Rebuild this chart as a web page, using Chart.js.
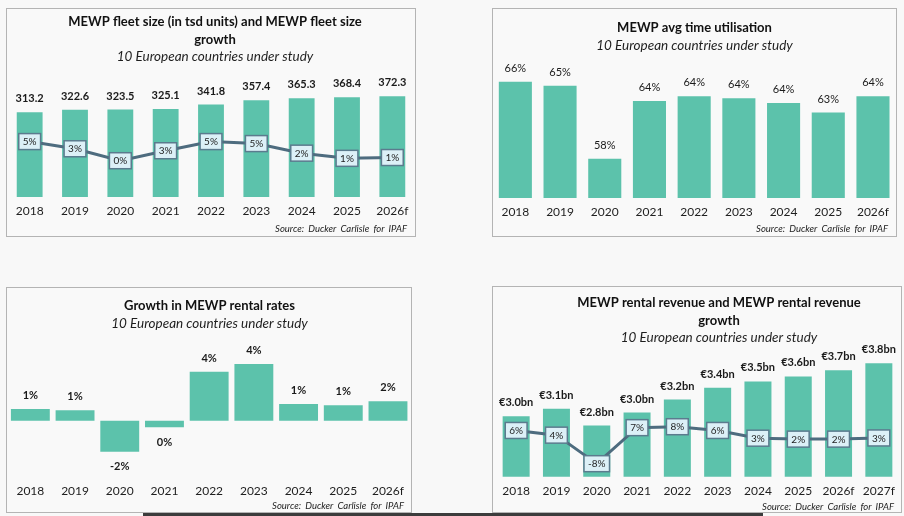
<!DOCTYPE html>
<html>
<head>
<meta charset="utf-8">
<script src="https://cdn.jsdelivr.net/npm/chart.js@4.4.1/dist/chart.umd.min.js"></script>
<style>
  body { margin: 0; background: #f8f8f8; width: 904px; height: 516px; position: relative; overflow: hidden; font-family: Lato, sans-serif; }
  .panel { position: absolute; border: 1px solid #b4b4b4; background: #f9f9f9; overflow: hidden; }
  .panel canvas { position: absolute; left: 0; top: 0; }
  .src { position: absolute; font: italic 9.5px Lato, sans-serif; color: #222; word-spacing: 2px; white-space: nowrap; }
  .edge { position: absolute; left: 143px; top: 513px; width: 620px; height: 3px; background: #3c3c3c; }
</style>
</head>
<body>
<div class="panel" style="left:6px;top:8px;width:408px;height:227px;">
  <canvas id="fleet" width="416" height="227"></canvas>
  <div class="src" style="right:8px;top:214px;">Source: Ducker Carlisle for IPAF</div>
</div>
<div class="panel" style="left:492px;top:8px;width:403px;height:227px;">
  <canvas id="util" width="403" height="227"></canvas>
  <div class="src" style="right:8px;top:214px;">Source: Ducker Carlisle for IPAF</div>
</div>
<div class="panel" style="left:6px;top:287px;width:404px;height:224px;">
  <canvas id="rates" width="404" height="224"></canvas>
  <div class="src" style="right:7px;top:212px;">Source: Ducker Carlisle for IPAF</div>
</div>
<div class="panel" style="left:492px;top:286px;width:408px;height:225px;">
  <canvas id="revenue" width="449" height="225"></canvas>
  <div class="src" style="right:7px;top:214px;">Source: Ducker Carlisle for IPAF</div>
</div>
<div class="edge"></div>
<script>
// categories
const years9 = ['2018', '2019', '2020', '2021', '2022', '2023', '2024', '2025', '2026f'];
const years10 = ['2018', '2019', '2020', '2021', '2022', '2023', '2024', '2025', '2026f', '2027f'];

// fleet size (tsd units) and growth (%)
const fleetSize = [313.2, 322.6, 323.5, 325.1, 341.8, 357.4, 365.3, 368.4, 372.3];
const fleetGrowth = [5.1, 3.3, 0.3, 2.8, 5.1, 4.6, 2.2, 0.9, 1.1];

// avg time utilisation (%)
const utilisation = [65.8, 65.4, 57.8, 63.8, 64.3, 64.1, 63.6, 62.6, 64.3];

// growth in rental rates (%)
const rateGrowth = [0.9, 0.8, -2.4, -0.5, 3.8, 4.4, 1.3, 1.2, 1.5];

// rental revenue (EUR bn) and growth (%)
const revenue = [2.97, 3.09, 2.82, 3.03, 3.24, 3.43, 3.53, 3.61, 3.71, 3.82];
const revenueGrowth = [6.0, 4.0, -8.2, 7.2, 7.6, 6.0, 2.7, 2.3, 2.3, 2.8];

const subtitleText = '10 European countries under study';
const barColor = '#5cc2ab';
const lineColor = '#4e6c7f';

Chart.defaults.font.family = 'Lato, sans-serif';
Chart.defaults.color = '#1e1e1e';

const pct = v => Math.round(v) + 0 + '%';

// draws value labels: text over bars, boxed labels on line points
const valueLabels = {
  id: 'valueLabels',
  afterDatasetsDraw(chart) {
    const ctx = chart.ctx;
    chart.data.datasets.forEach((ds, i) => {
      if (!ds.fmt) return;
      const meta = chart.getDatasetMeta(i);
      meta.data.forEach((el, j) => {
        const v = ds.data[j];
        const txt = ds.fmt(v);
        ctx.save();
        ctx.textAlign = 'center';
        ctx.textBaseline = 'middle';
        if (meta.type === 'line') {
          ctx.font = '10px Lato, sans-serif';
          const w = ctx.measureText(txt).width + 8, h = 16;
          ctx.fillStyle = '#dcf0f7';
          ctx.fillRect(el.x - w / 2, el.y - h / 2, w, h);
          ctx.strokeStyle = '#5b7b8e';
          ctx.lineWidth = 1.5;
          ctx.strokeRect(el.x - w / 2, el.y - h / 2, w, h);
          ctx.fillStyle = '#1e1e1e';
          ctx.fillText(txt, el.x, el.y + 0.5);
        } else {
          ctx.font = (ds.boldLabels ? 'bold ' : '') + '11px Lato, sans-serif';
          ctx.fillStyle = '#1a1a1a';
          const y = v < 0 ? el.y + 15 : el.y - 13.5;
          ctx.fillText(txt, el.x, y);
        }
        ctx.restore();
      });
    });
  }
};

function xAxis(pad) {
  return {
    grid: { display: false, drawTicks: false },
    border: { display: false },
    ticks: { padding: pad, font: { size: 12 }, color: '#1e1e1e' }
  };
}

function spacerAxis(min, max, width) {
  return {
    position: 'right', min: min, max: max,
    ticks: { display: false },
    grid: { display: false, drawTicks: false },
    border: { display: false },
    afterFit(scale) { scale.width = width; }
  };
}

function options(title, titleTop, subBottom, padding, scales) {
  return {
    responsive: false,
    animation: false,
    events: [],
    layout: { padding: padding },
    plugins: {
      legend: { display: false },
      tooltip: { enabled: false },
      title: {
        display: true, text: title, color: '#111',
        font: { size: 13, weight: 'bold', lineHeight: 1.35 },
        padding: { top: titleTop, bottom: 0 }
      },
      subtitle: {
        display: true, text: subtitleText, color: '#1e1e1e',
        font: { size: 13.5, style: 'italic', lineHeight: 1.29 },
        padding: { top: 0, bottom: subBottom }
      }
    },
    scales: scales
  };
}

new Chart(document.getElementById('fleet'), {
  data: {
    labels: years9,
    datasets: [
      { type: 'line', data: fleetGrowth, yAxisID: 'y2', borderColor: lineColor, borderWidth: 3,
        pointRadius: 0, tension: 0, order: 1, fmt: pct },
      { type: 'bar', data: fleetSize, yAxisID: 'y', backgroundColor: barColor,
        barPercentage: 0.57, categoryPercentage: 1, order: 2, boldLabels: true, fmt: v => v.toFixed(1) }
    ]
  },
  options: options(['MEWP fleet size (in tsd units) and MEWP fleet size', 'growth'], 4, 9.5,
    { left: 0, right: 0, top: 0, bottom: 10.6 },
    { x: xAxis(7), y: { display: false, min: 0, max: 451 }, y2: spacerAxis(-8.8, 21.8, 8) }),
  plugins: [valueLabels]
});

new Chart(document.getElementById('util'), {
  type: 'bar',
  data: {
    labels: years9,
    datasets: [
      { data: utilisation, backgroundColor: barColor, barPercentage: 0.74, categoryPercentage: 1,
        boldLabels: false, fmt: pct }
    ]
  },
  options: options('MEWP avg time utilisation', 10, 10,
    { left: 0, right: 0, top: 0, bottom: 9.6 },
    { x: xAxis(7), y: { display: false, min: 53.7, max: 67.66 } }),
  plugins: [valueLabels]
});

new Chart(document.getElementById('rates'), {
  type: 'bar',
  data: {
    labels: years9,
    datasets: [
      { data: rateGrowth, backgroundColor: barColor, barPercentage: 0.87, categoryPercentage: 1,
        boldLabels: true, fmt: pct }
    ]
  },
  options: options('Growth in MEWP rental rates', 9.25, 10.75,
    { left: 1, right: 0, top: 0, bottom: 6.6 },
    { x: xAxis(7), y: { display: false, min: -4.36, max: 6.02 } }),
  plugins: [valueLabels]
});

new Chart(document.getElementById('revenue'), {
  data: {
    labels: years10,
    datasets: [
      { type: 'line', data: revenueGrowth, yAxisID: 'y2', borderColor: lineColor, borderWidth: 3,
        pointRadius: 0, tension: 0, order: 1, fmt: pct },
      { type: 'bar', data: revenue, yAxisID: 'y', backgroundColor: barColor,
        barPercentage: 0.67, categoryPercentage: 1, order: 2, boldLabels: true,
        fmt: v => '\u20ac' + v.toFixed(1) + 'bn' }
    ]
  },
  options: options(['MEWP rental revenue and MEWP rental revenue', 'growth'], 7, 0,
    { left: 3, right: 0, top: 0, bottom: 6.1 },
    { x: xAxis(7.4), y: { display: false, min: 2.0, max: 4.09 }, y2: spacerAxis(-13.76, 41.88, 43) }),
  plugins: [valueLabels]
});
</script>
</body>
</html>
